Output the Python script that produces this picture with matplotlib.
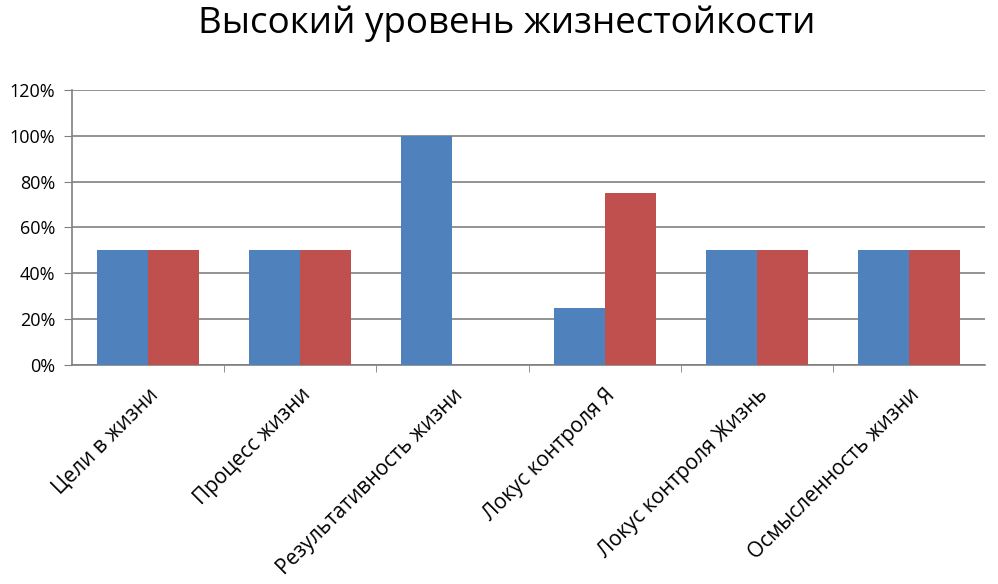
import matplotlib
matplotlib.use("Agg")
import matplotlib.pyplot as plt
import numpy as np

plt.rcParams['font.family'] = ['Open Sans', 'DejaVu Sans']

# data
categories = ['Цели в жизни', 'Процесс жизни', 'Результативность жизни',
              'Локус контроля Я', 'Локус контроля Жизнь', 'Осмысленность жизни']
series_blue = [50, 50, 100, 25, 50, 50]
series_red = [50, 50, 0, 75, 50, 50]
yticks = [0, 20, 40, 60, 80, 100, 120]

fig = plt.figure(figsize=(9.98, 5.84), dpi=100)
ax = fig.add_axes([0.0721, 0.375, 0.915, 0.471])

x = np.arange(len(categories))
w = 0.335
ax.bar(x - w / 2, series_blue, w, color='#4F81BD', zorder=3)
ax.bar(x + w / 2, series_red, w, color='#C0504D', zorder=3)

ax.set_xlim(-0.5, len(categories) - 0.5)
ax.set_ylim(0, 120)
ax.set_yticks(yticks)
ax.set_yticklabels([f'{v}%' for v in yticks], fontsize=13)
ax.yaxis.grid(True, color='#808080', linewidth=1.2, zorder=0)

ax.set_xticks(x)
ax.set_xticklabels(categories, rotation=45, ha='right', rotation_mode='anchor', fontsize=15)
ax.tick_params(axis='x', length=0, pad=14)
ax.set_xticks(np.arange(0.5, len(categories) - 1, 1), minor=True)
ax.tick_params(axis='x', which='minor', length=5, color='#808080')
ax.tick_params(axis='y', length=6, color='#808080', pad=6)

for s in ['top', 'right']:
    ax.spines[s].set_visible(False)
ax.spines['left'].set_color('#808080')
ax.spines['bottom'].set_color('#808080')
ax.spines['left'].set_linewidth(1.2)
ax.spines['bottom'].set_linewidth(1.2)

fig.suptitle('Высокий уровень жизнестойкости', fontsize=26.5, x=0.508, y=0.99, va='top')

fig.savefig('out.png', dpi=100)
